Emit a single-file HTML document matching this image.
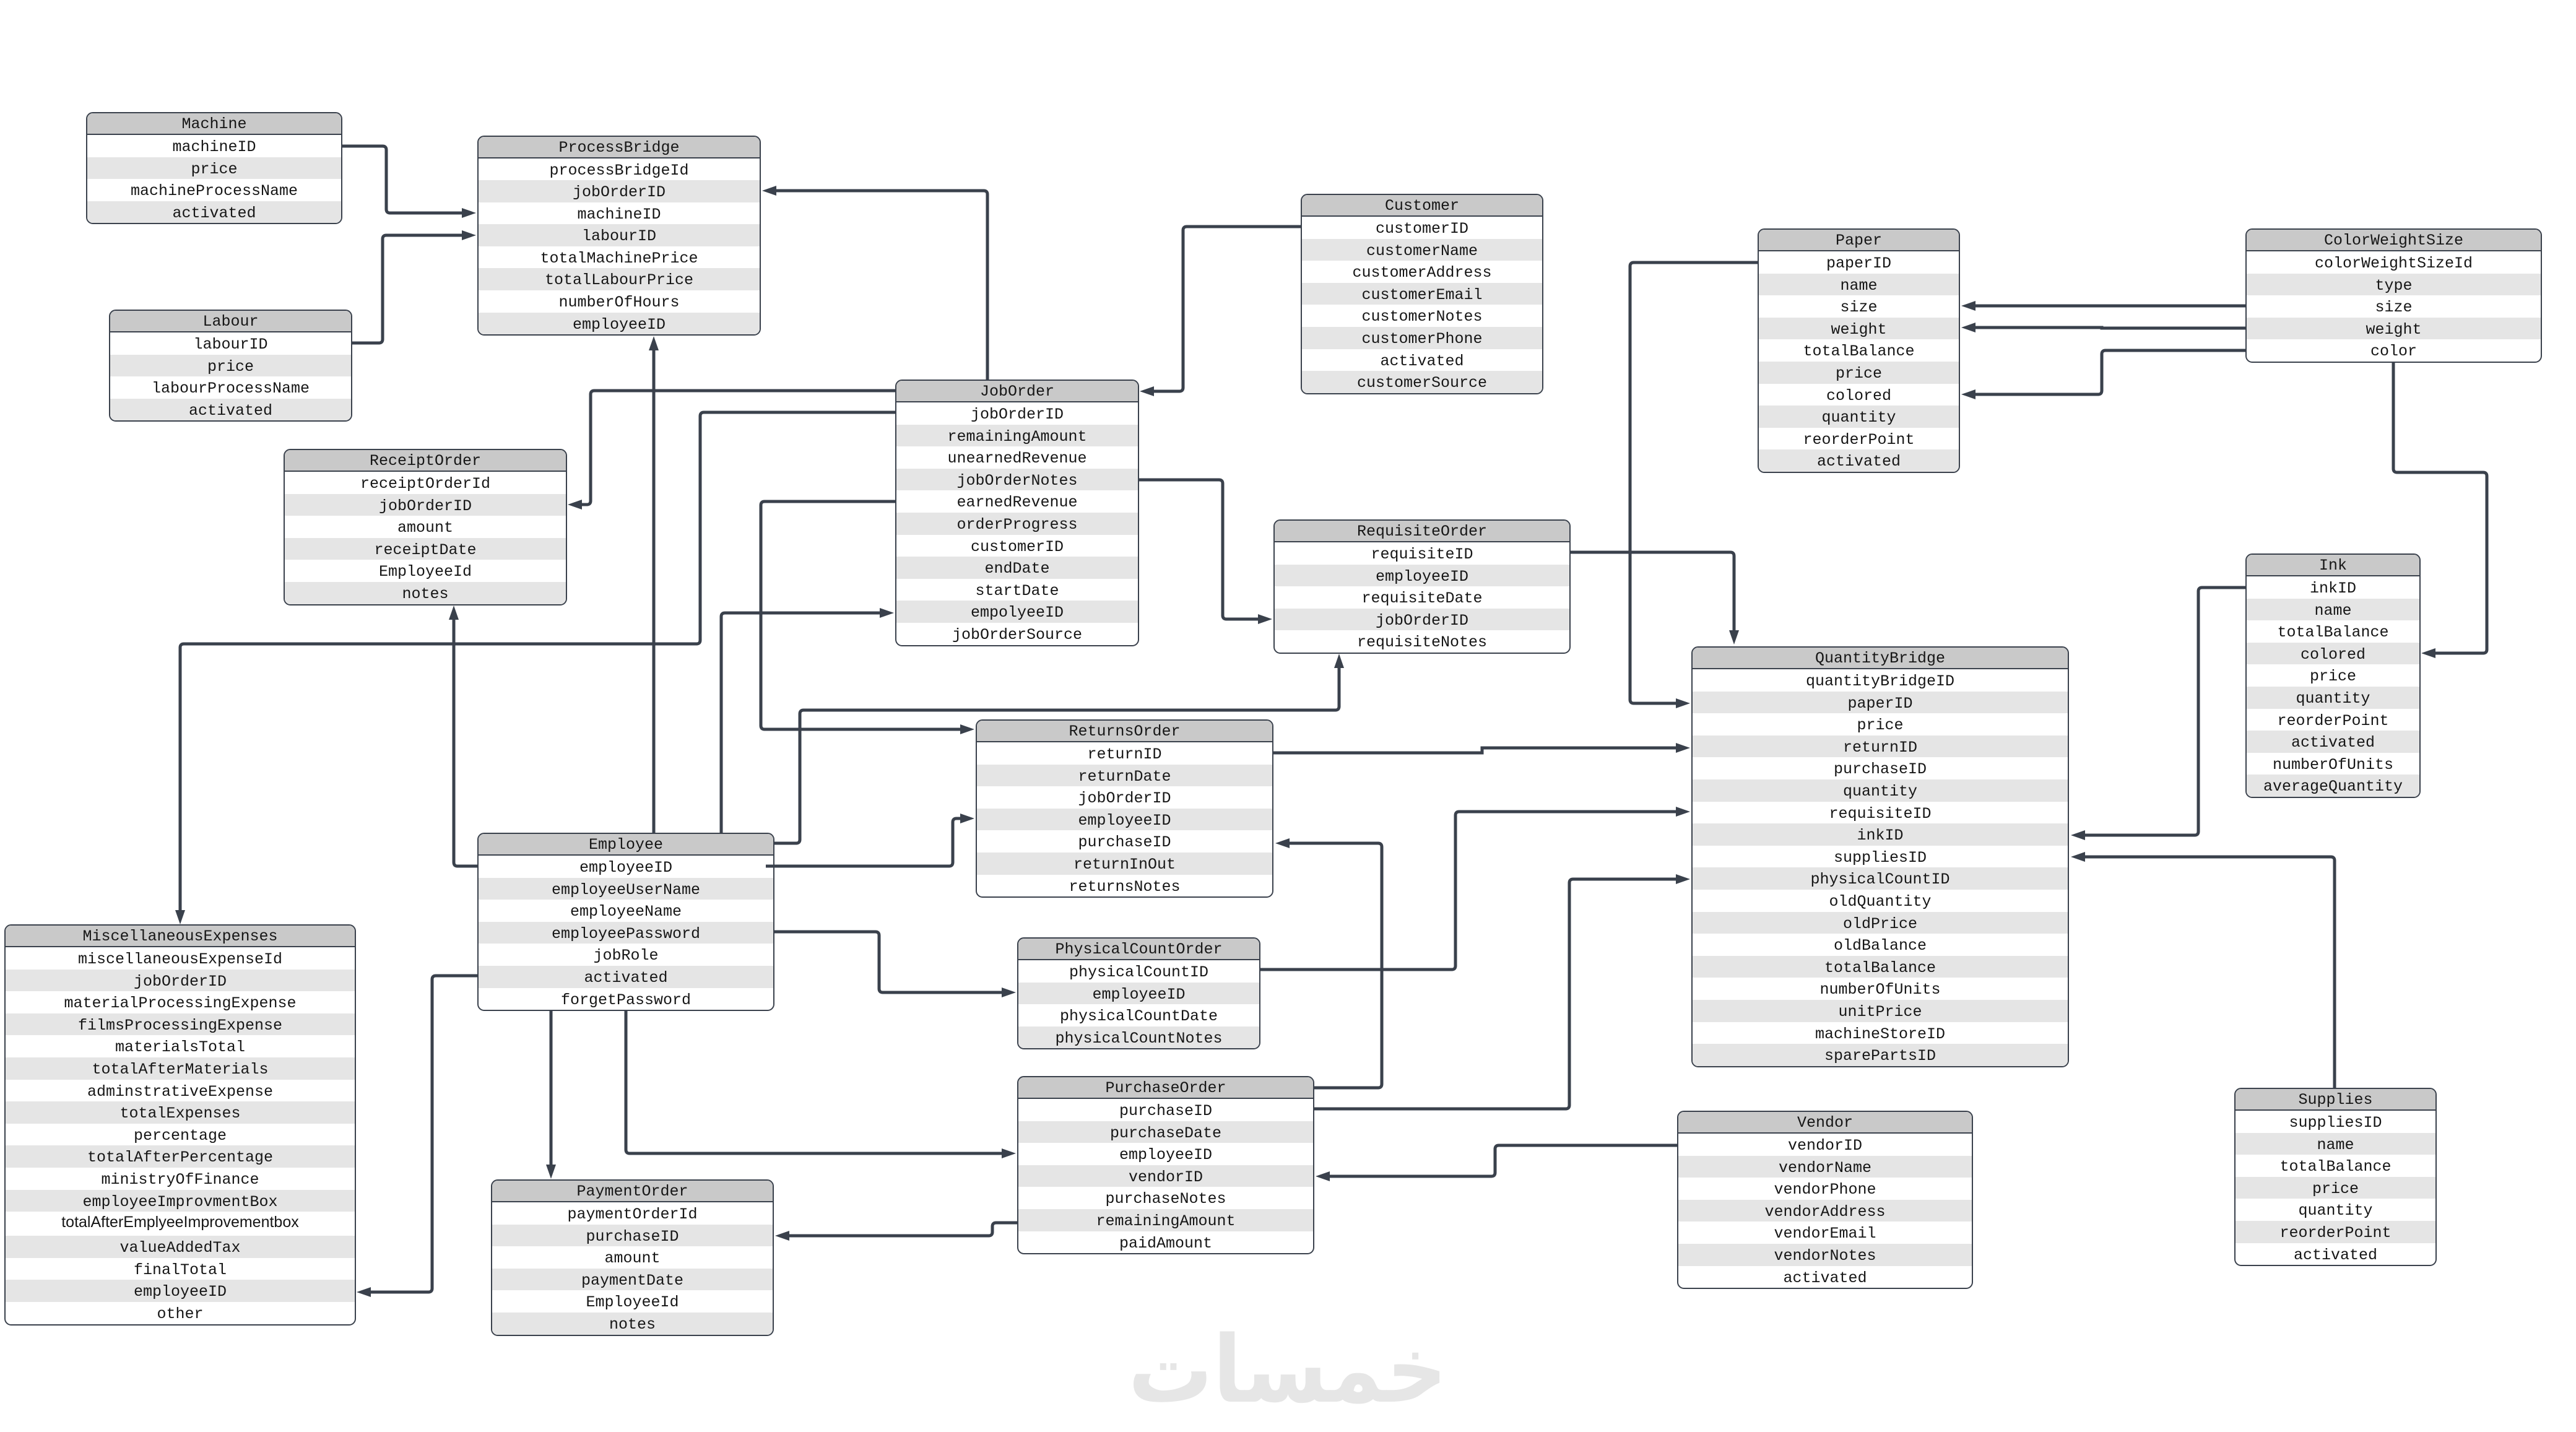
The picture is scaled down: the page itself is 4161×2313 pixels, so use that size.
<!DOCTYPE html>
<html><head><meta charset="utf-8"><style>
html,body{margin:0;padding:0;background:#fff;width:4161px;height:2313px;overflow:hidden}
.t{position:absolute;box-sizing:border-box;border:2.5px solid #3a414c;border-radius:11px;overflow:hidden;background:#fff;font:25px/39.5px "Liberation Mono",monospace;color:#161616;text-align:center}
.t b{display:block;font-weight:normal;height:33px;line-height:36px;background:#c9c9c9;border-bottom:2.5px solid #3a414c}
.t i{display:block;font-style:normal;height:35.6px;white-space:nowrap}
.t i:nth-child(odd){background:#e5e5e5}
svg{position:absolute;left:0;top:0}
</style></head><body>
<div class="t" style="left:139px;top:181px;width:414px"><b>Machine</b><i>machineID</i><i>price</i><i>machineProcessName</i><i>activated</i></div>
<div class="t" style="left:771px;top:218.5px;width:458px"><b>ProcessBridge</b><i>processBridgeId</i><i>jobOrderID</i><i>machineID</i><i>labourID</i><i>totalMachinePrice</i><i>totalLabourPrice</i><i>numberOfHours</i><i>employeeID</i></div>
<div class="t" style="left:176px;top:500px;width:393px"><b>Labour</b><i>labourID</i><i>price</i><i>labourProcessName</i><i>activated</i></div>
<div class="t" style="left:458px;top:725px;width:458px"><b>ReceiptOrder</b><i>receiptOrderId</i><i>jobOrderID</i><i>amount</i><i>receiptDate</i><i>EmployeeId</i><i>notes</i></div>
<div class="t" style="left:1446px;top:613px;width:394px"><b>JobOrder</b><i>jobOrderID</i><i>remainingAmount</i><i>unearnedRevenue</i><i>jobOrderNotes</i><i>earnedRevenue</i><i>orderProgress</i><i>customerID</i><i>endDate</i><i>startDate</i><i>empolyeeID</i><i>jobOrderSource</i></div>
<div class="t" style="left:2101px;top:313px;width:392px"><b>Customer</b><i>customerID</i><i>customerName</i><i>customerAddress</i><i>customerEmail</i><i>customerNotes</i><i>customerPhone</i><i>activated</i><i>customerSource</i></div>
<div class="t" style="left:2839px;top:369px;width:327px"><b>Paper</b><i>paperID</i><i>name</i><i>size</i><i>weight</i><i>totalBalance</i><i>price</i><i>colored</i><i>quantity</i><i>reorderPoint</i><i>activated</i></div>
<div class="t" style="left:3627px;top:369px;width:479px"><b>ColorWeightSize</b><i>colorWeightSizeId</i><i>type</i><i>size</i><i>weight</i><i>color</i></div>
<div class="t" style="left:3627px;top:894px;width:283px"><b>Ink</b><i>inkID</i><i>name</i><i>totalBalance</i><i>colored</i><i>price</i><i>quantity</i><i>reorderPoint</i><i>activated</i><i>numberOfUnits</i><i>averageQuantity</i></div>
<div class="t" style="left:2057px;top:839px;width:480px"><b>RequisiteOrder</b><i>requisiteID</i><i>employeeID</i><i>requisiteDate</i><i>jobOrderID</i><i>requisiteNotes</i></div>
<div class="t" style="left:2732px;top:1044px;width:610px"><b>QuantityBridge</b><i>quantityBridgeID</i><i>paperID</i><i>price</i><i>returnID</i><i>purchaseID</i><i>quantity</i><i>requisiteID</i><i>inkID</i><i>suppliesID</i><i>physicalCountID</i><i>oldQuantity</i><i>oldPrice</i><i>oldBalance</i><i>totalBalance</i><i>numberOfUnits</i><i>unitPrice</i><i>machineStoreID</i><i>sparePartsID</i></div>
<div class="t" style="left:1576px;top:1162px;width:481px"><b>ReturnsOrder</b><i>returnID</i><i>returnDate</i><i>jobOrderID</i><i>employeeID</i><i>purchaseID</i><i>returnInOut</i><i>returnsNotes</i></div>
<div class="t" style="left:771px;top:1345px;width:480px"><b>Employee</b><i>employeeID</i><i>employeeUserName</i><i>employeeName</i><i>employeePassword</i><i>jobRole</i><i>activated</i><i>forgetPassword</i></div>
<div class="t" style="left:7px;top:1493px;width:568px"><b>MiscellaneousExpenses</b><i>miscellaneousExpenseId</i><i>jobOrderID</i><i>materialProcessingExpense</i><i>filmsProcessingExpense</i><i>materialsTotal</i><i>totalAfterMaterials</i><i>adminstrativeExpense</i><i>totalExpenses</i><i>percentage</i><i>totalAfterPercentage</i><i>ministryOfFinance</i><i>employeeImprovmentBox</i><i style="height:39px;font-family:'Liberation Sans',sans-serif;line-height:35px">totalAfterEmplyeeImprovementbox</i><i>valueAddedTax</i><i>finalTotal</i><i>employeeID</i><i>other</i></div>
<div class="t" style="left:1643px;top:1514px;width:393px"><b>PhysicalCountOrder</b><i>physicalCountID</i><i>employeeID</i><i>physicalCountDate</i><i>physicalCountNotes</i></div>
<div class="t" style="left:1643px;top:1738px;width:480px"><b>PurchaseOrder</b><i>purchaseID</i><i>purchaseDate</i><i>employeeID</i><i>vendorID</i><i>purchaseNotes</i><i>remainingAmount</i><i>paidAmount</i></div>
<div class="t" style="left:2709px;top:1794px;width:478px"><b>Vendor</b><i>vendorID</i><i>vendorName</i><i>vendorPhone</i><i>vendorAddress</i><i>vendorEmail</i><i>vendorNotes</i><i>activated</i></div>
<div class="t" style="left:793px;top:1905px;width:457px"><b>PaymentOrder</b><i>paymentOrderId</i><i>purchaseID</i><i>amount</i><i>paymentDate</i><i>EmployeeId</i><i>notes</i></div>
<div class="t" style="left:3609px;top:1757px;width:327px"><b>Supplies</b><i>suppliesID</i><i>name</i><i>totalBalance</i><i>price</i><i>quantity</i><i>reorderPoint</i><i>activated</i></div>
<svg width="4161" height="2313" viewBox="0 0 4161 2313" xmlns="http://www.w3.org/2000/svg">
<defs><marker id="a" markerUnits="userSpaceOnUse" markerWidth="44" markerHeight="44" refX="20" refY="20" orient="auto"><path d="M9,12 L32,20 L9,28z" fill="#3a414c"/></marker></defs>
<g fill="none" stroke="#3a414c" stroke-width="5">
<path marker-end="url(#a)" d="M553 236H618Q624 236 624 242V338Q624 344 630 344H757"/>
<path marker-end="url(#a)" d="M568 554H612Q618 554 618 548V386Q618 380 624 380H757"/>
<path marker-end="url(#a)" d="M1595 613V314Q1595 308 1589 308H1243"/>
<path marker-end="url(#a)" d="M1056 1345V555"/>
<path marker-end="url(#a)" d="M1446 631H960Q954 631 954 637V809Q954 815 948 815H929"/>
<path marker-end="url(#a)" d="M1446 666H1137Q1131 666 1131 672V1034Q1131 1040 1125 1040H297Q291 1040 291 1046V1481"/>
<path marker-end="url(#a)" d="M1446 810H1235Q1229 810 1229 816V1172Q1229 1178 1235 1178H1562"/>
<path marker-end="url(#a)" d="M2102 366H1917Q1911 366 1911 372V626Q1911 632 1905 632H1853"/>
<path marker-end="url(#a)" d="M1839 775H1969Q1975 775 1975 781V994Q1975 1000 1981 1000H2043"/>
<path marker-end="url(#a)" d="M2537 892H2795Q2801 892 2801 898V1029"/>
<path marker-end="url(#a)" d="M2839 424H2639Q2633 424 2633 430V1130Q2633 1136 2639 1136H2718"/>
<path marker-end="url(#a)" d="M3627 494H3180"/>
<path marker-end="url(#a)" d="M3627 530H3395V529H3180"/>
<path marker-end="url(#a)" d="M3627 566H3401Q3395 566 3395 572V631Q3395 637 3389 637H3180"/>
<path marker-end="url(#a)" d="M3866 585V757Q3866 763 3872 763H4011Q4017 763 4017 769V1049Q4017 1055 4011 1055H3923"/>
<path marker-end="url(#a)" d="M3627 949H3557Q3551 949 3551 955V1343Q3551 1349 3545 1349H3357"/>
<path marker-end="url(#a)" d="M3771 1757V1390Q3771 1384 3765 1384H3357"/>
<path marker-end="url(#a)" d="M1165 1345V996Q1165 990 1171 990H1432"/>
<path marker-end="url(#a)" d="M1250 1362H1286Q1292 1362 1292 1356V1153Q1292 1147 1298 1147H2157Q2163 1147 2163 1141V1068"/>
<path marker-end="url(#a)" d="M771 1399H739Q733 1399 733 1393V990"/>
<path marker-end="url(#a)" d="M1237 1399H1533Q1539 1399 1539 1393V1328Q1539 1322 1545 1322H1562"/>
<path marker-end="url(#a)" d="M1250 1505H1414Q1420 1505 1420 1511V1597Q1420 1603 1426 1603H1629"/>
<path marker-end="url(#a)" d="M771 1576H704Q698 1576 698 1582V2081Q698 2087 692 2087H588"/>
<path marker-end="url(#a)" d="M890 1632V1892"/>
<path marker-end="url(#a)" d="M1011 1632V1857Q1011 1863 1017 1863H1629"/>
<path marker-end="url(#a)" d="M2057 1216H2394V1208H2718"/>
<path marker-end="url(#a)" d="M2036 1566H2345Q2351 1566 2351 1560V1317Q2351 1311 2357 1311H2718"/>
<path marker-end="url(#a)" d="M2123 1791H2529Q2535 1791 2535 1785V1426Q2535 1420 2541 1420H2718"/>
<path marker-end="url(#a)" d="M2123 1757H2226Q2232 1757 2232 1751V1368Q2232 1362 2226 1362H2072"/>
<path marker-end="url(#a)" d="M2710 1850H2421Q2415 1850 2415 1856V1894Q2415 1900 2409 1900H2137"/>
<path marker-end="url(#a)" d="M1643 1975H1609Q1603 1975 1603 1981V1990Q1603 1996 1597 1996H1264"/>
</g>
<text transform="translate(2080,2264) scale(.8,.88)" text-anchor="middle" direction="rtl" font-family="'DejaVu Sans',sans-serif" font-weight="bold" font-size="170" fill="#e6e6e6">خمسات</text>
</svg>
</body></html>
